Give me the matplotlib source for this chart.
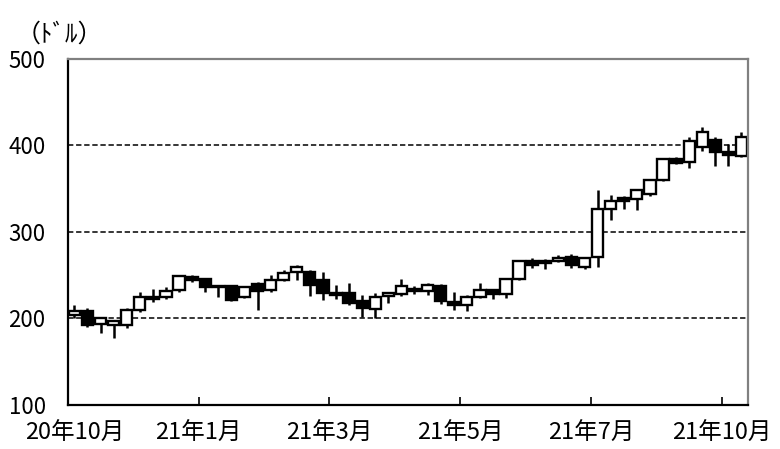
import numpy as np
import matplotlib
matplotlib.use("Agg")
import matplotlib.pyplot as plt

plt.rcParams['font.family'] = ['Noto Sans CJK JP', 'DejaVu Sans']

## DATA (weekly candles, USD)

opens = [204, 209, 194, 193, 193, 210, 225, 225, 233, 248,
         246, 237, 237, 225, 240, 233, 245, 254, 254, 244,
         229, 229, 220, 211, 226, 228, 234, 232, 238, 219,
         216, 225, 233, 228, 246, 266, 264, 266, 271, 260,
         271, 326, 339, 338, 344, 360, 384, 381, 398, 406,
         392, 388]
highs = [216, 212, 202, 198, 212, 230, 234, 236, 250, 250,
         247, 238, 238, 237, 242, 250, 256, 262, 256, 254,
         239, 241, 227, 229, 230, 246, 237, 241, 240, 230,
         227, 241, 234, 247, 268, 270, 269, 273, 275, 271,
         349, 343, 341, 349, 361, 385, 386, 410, 421, 410,
         402, 416]
lows = [201, 190, 183, 177, 189, 208, 219, 222, 231, 242,
        230, 225, 220, 224, 210, 231, 243, 244, 226, 221,
        223, 216, 202, 200, 218, 226, 228, 227, 217, 210,
        209, 224, 222, 224, 245, 258, 257, 265, 258, 257,
        260, 314, 327, 325, 342, 359, 378, 374, 393, 376,
        376, 386]
closes = [209, 193, 201, 197, 210, 225, 222, 232, 249, 244,
          236, 236, 221, 236, 232, 244, 253, 260, 239, 229,
          227, 218, 212, 225, 229, 237, 232, 239, 220, 216,
          225, 233, 228, 246, 266, 262, 266, 269.5, 262, 270,
          326, 336, 336, 348, 360, 384, 380, 405, 415, 392,
          389, 410]

tick_labels = ['20年10月', '21年1月', '21年3月', '21年5月', '21年7月', '21年10月']
y_ticks = [100, 200, 300, 400, 500]

## PLOTTING

o = np.array(opens, dtype=float)
c = np.array(closes, dtype=float)
h = np.array(highs, dtype=float)
l = np.array(lows, dtype=float)
x = np.arange(len(o))

fig = plt.figure(figsize=(7.8, 4.49), dpi=100)
ax = fig.add_axes([0.087, 0.098, 0.872, 0.771])

# grid lines
for v in [200, 300, 400]:
    ax.axhline(v, color='black', lw=1.1, linestyle=(0, (3.5, 1.8)), zorder=0)

# wicks
ax.vlines(x, l, h, color='black', lw=1.8, zorder=1)

# bodies: white when up, black when down
up = c >= o
body_bottom = np.minimum(o, c)
body_height = np.abs(c - o)
colors = np.where(up, 'white', 'black')
ax.bar(x, body_height, bottom=body_bottom, width=0.86, color=colors,
       edgecolor='black', linewidth=1.7, zorder=2)

ax.set_xlim(-0.5, len(o) - 0.5)
ax.set_ylim(100, 500)
ax.set_yticks(y_ticks)
ax.set_yticklabels([str(t) for t in y_ticks], fontsize=16)
ax.tick_params(axis='y', length=0, pad=16)

# month labels every 10 weeks; the first one sits on the left edge without a tick mark
ax.set_xticks([9.5, 19.5, 29.5, 39.5, 49.5])
ax.set_xticklabels(tick_labels[1:], fontsize=17)
ax.set_xticks([0.0], minor=True)
ax.set_xticklabels(tick_labels[:1], minor=True, fontsize=17)
ax.tick_params(axis='x', which='major', direction='in', length=6, width=1.2, pad=12.5)
ax.tick_params(axis='x', which='minor', direction='in', length=0, pad=12.5)

for side in ['left', 'bottom']:
    ax.spines[side].set_color('black')
    ax.spines[side].set_linewidth(1.6)
for side in ['top', 'right']:
    ax.spines[side].set_color('#808080')
    ax.spines[side].set_linewidth(1.6)

fig.text(59 / 780, 1 - 35 / 449, '（ﾄﾞﾙ）', ha='center', va='center', fontsize=18)

plt.savefig('out.png', dpi=100)
